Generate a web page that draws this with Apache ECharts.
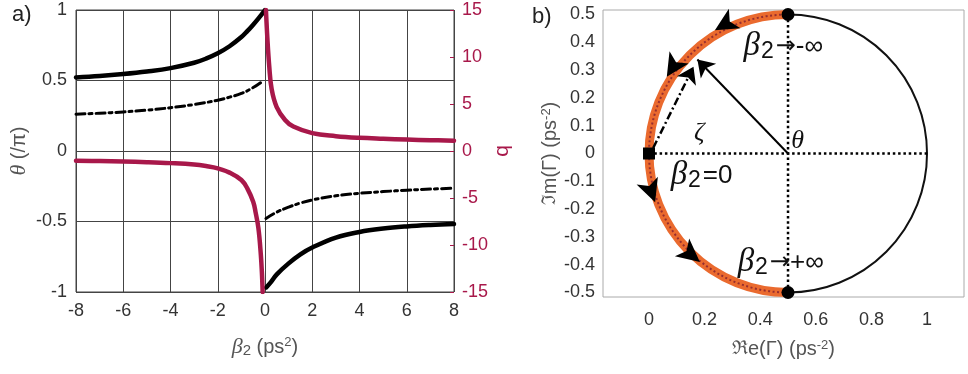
<!DOCTYPE html>
<html><head><meta charset="utf-8">
<script src="https://cdn.jsdelivr.net/npm/echarts@6/dist/echarts.min.js"></script>
<style>html,body{margin:0;padding:0;background:#fff}#c{width:968px;height:374px}</style>
</head><body><div id="c"></div>
<script>
// ---------- Panel a) data (read from the picture) ----------
// theta/pi, solid black
const betaSolidNeg = [-8, -7, -6, -5, -4, -3, -2.5, -2, -1.5, -1, -0.75, -0.5, -0.25, -0.1, 0];
const thetaSolidNeg = [0.522, 0.532, 0.546, 0.564, 0.588, 0.626, 0.655, 0.693, 0.743, 0.808, 0.85, 0.896, 0.946, 0.978, 1.0];
const betaSolidPos = [0.05, 0.25, 0.5, 1, 1.5, 2, 3, 4, 5, 6, 7, 8];
const thetaSolidPos = [-0.968, -0.93, -0.875, -0.797, -0.733, -0.685, -0.614, -0.574, -0.55, -0.535, -0.525, -0.518];
// zeta/pi, dash-dot black
const betaDashNeg = [-8, -7, -6, -5, -4, -3, -2, -1.5, -1, -0.5, -0.18];
const zetaDashNeg = [0.261, 0.268, 0.277, 0.29, 0.307, 0.33, 0.36, 0.382, 0.408, 0.45, 0.485];
const betaDashPos = [0.04, 0.5, 1, 1.5, 2, 3, 4, 5, 6, 7, 8];
const zetaDashPos = [-0.478, -0.433, -0.398, -0.369, -0.347, -0.318, -0.3, -0.288, -0.278, -0.27, -0.264];
// q, crimson (right axis)
const betaQNeg = [-8, -7, -6, -5, -4, -3, -2.5, -2, -1.5, -1, -0.75, -0.5, -0.4, -0.28, -0.18, -0.13, -0.1];
const qNeg = [-1.03, -1.07, -1.12, -1.19, -1.29, -1.44, -1.6, -1.84, -2.3, -3.09, -3.97, -5.4, -6.5, -8.2, -10.9, -13.0, -15];
const betaQPos = [0.04, 0.1, 0.18, 0.28, 0.49, 0.85, 1.2, 2, 3, 4, 5, 6, 7, 8];
const qPos = [15, 12, 9.0, 6.6, 4.7, 3.3, 2.6, 1.9, 1.58, 1.4, 1.3, 1.22, 1.15, 1.1];

// ---------- Panel b) data ----------
const reTicks = [0, 0.2, 0.4, 0.6, 0.8, 1];
const imTicks = [-0.5, -0.4, -0.3, -0.2, -0.1, 0, 0.1, 0.2, 0.3, 0.4, 0.5];
const circleCenter = [0.5, 0];
const circleRadius = 0.5;
const endDots = [[0.5, 0.5], [0.5, -0.5]];
const zeroPoint = [0, 0];
const vLine = [[0.5, 0.5], [0.5, -0.5]];
const hLine = [[0, 0], [1, 0]];
const radiusArrow = [[0.5, 0], [0.174, 0.338]];
const chordArrow = [[0.015, 0.02], [0.16, 0.312]];
const arcArrowPts = [[0.237, 0.443], [0.064, 0.276], [0.022, -0.175], [0.183, -0.39]];

const fontSans = '"Liberation Sans", Arial, sans-serif';
const fontSerif = '"Liberation Serif", "DejaVu Serif", serif';
const crimson = '#a8184a';
const orange = '#ea6a2e';
const tickColor = '#333';
const nameColor = '#555';

const pairs = (xs, ys) => xs.map((x, i) => [x, ys[i]]);

const annRich = {
  b: {fontFamily: fontSerif, fontStyle: 'italic', fontSize: 33, color: '#111'},
  s: {fontFamily: fontSans, fontSize: 23, color: '#111', verticalAlign: 'bottom', padding: [0, 2, 0, 1]},
  t: {fontFamily: fontSans, fontSize: 26, color: '#111'},
  a: {fontFamily: '"DejaVu Sans", sans-serif', fontSize: 24, color: '#111'},
  g: {fontFamily: fontSerif, fontStyle: 'italic', fontSize: 26, color: '#111'}
};
const nameRich = {
  b: {fontFamily: fontSerif, fontStyle: 'italic', fontSize: 22, color: nameColor},
  s: {fontFamily: fontSans, fontSize: 15, color: nameColor, verticalAlign: 'bottom'},
  p: {fontFamily: fontSans, fontSize: 13, color: nameColor, verticalAlign: 'top'},
  n: {fontFamily: fontSans, fontSize: 20, color: nameColor},
  r: {fontFamily: '"DejaVu Serif", serif', fontSize: 19, color: nameColor},
  q: {fontFamily: fontSans, fontSize: 21, color: crimson}
};

const annotations = [
  {pos: [0.338, 0.385], text: '{b|β}{s|2}{a|→}{t|-∞}'},
  {pos: [0.076, -0.08], text: '{b|β}{s|2}{t|=0}'},
  {pos: [0.317, -0.393], text: '{b|β}{s|2}{a|→}{t|+∞}'},
  {pos: [0.16, 0.074], text: '{g|ζ}'},
  {pos: [0.51, 0.045], text: '{g|θ}'}
];

const chart = echarts.init(document.getElementById('c'), null, {renderer: 'canvas'});

const lineA = (data, color, width, type, yIdx) => ({
  type: 'line', xAxisIndex: 0, yAxisIndex: yIdx, data, showSymbol: false, symbol: 'none',
  smooth: 0.4, lineStyle: {color, width, type, cap: 'round', join: 'round'}, z: yIdx === 1 ? 4 : 3,
  clip: true
});

const arcRender = (params, api) => {
  const c = api.coord([api.value(0), api.value(1)]);
  const r = api.size([api.value(2), 0])[0];
  return {
    type: 'group',
    children: [
      {type: 'circle', shape: {cx: c[0], cy: c[1], r}, style: {fill: null, stroke: '#111', lineWidth: 2}},
      {type: 'arc', shape: {cx: c[0], cy: c[1], r, startAngle: Math.PI / 2, endAngle: Math.PI * 1.5, clockwise: true},
        style: {fill: null, stroke: orange, lineWidth: 9}},
      {type: 'arc', shape: {cx: c[0], cy: c[1], r, startAngle: Math.PI / 2, endAngle: Math.PI * 1.5, clockwise: true},
        style: {fill: null, stroke: '#7a1a30', lineWidth: 2, lineDash: [2, 2.5], opacity: 0.75}}
    ]
  };
};

const option = {
  animation: false,
  backgroundColor: '#fff',
  textStyle: {fontFamily: fontSans},
  graphic: [
    {type: 'text', left: 12, top: 4, style: {text: 'a)', font: '22px ' + fontSans, fill: '#222'}},
    {type: 'text', left: 532, top: 6, style: {text: 'b)', font: '22px ' + fontSans, fill: '#222'}}
  ],
  grid: [
    {left: 76, top: 10, width: 378, height: 282, show: true, borderColor: '#444', borderWidth: 1, backgroundColor: 'transparent'},
    {left: 603, top: 10, width: 361, height: 287, show: true, borderColor: '#aaa', borderWidth: 1, backgroundColor: 'transparent'}
  ],
  xAxis: [
    {gridIndex: 0, type: 'value', min: -8, max: 8, interval: 2,
      axisLine: {show: false, onZero: false}, axisTick: {show: false},
      axisLabel: {color: tickColor, fontSize: 18, fontFamily: fontSans, margin: 10},
      splitLine: {show: true, lineStyle: {color: '#444', width: 1}},
      name: '{b|β}{s|2}{n| (ps}{p|2}{n|)}', nameLocation: 'middle', nameGap: 44,
      nameTextStyle: {rich: nameRich}},
    {gridIndex: 1, type: 'value', min: -0.1655, max: 1.133,
      axisLine: {show: false, onZero: false},
      axisTick: {show: false},
      axisLabel: {color: tickColor, fontSize: 18, fontFamily: fontSans, margin: 14, customValues: reTicks},
      splitLine: {show: false},
      name: '{r|ℜ}{n|e(Γ) (ps}{p|-2}{n|)}', nameLocation: 'middle', nameGap: 42,
      nameTextStyle: {rich: nameRich}}
  ],
  yAxis: [
    {gridIndex: 0, type: 'value', min: -1, max: 1, interval: 0.5,
      axisLine: {show: false, onZero: false}, axisTick: {show: false},
      axisLabel: {color: tickColor, fontSize: 18, fontFamily: fontSans, margin: 9},
      splitLine: {show: true, lineStyle: {color: '#444', width: 1}},
      name: '{b|θ}{n| (/π)}', nameLocation: 'middle', nameGap: 46, nameRotate: 90,
      nameTextStyle: {rich: nameRich}},
    {gridIndex: 0, type: 'value', position: 'right', min: -15, max: 15, interval: 5,
      axisLine: {show: false, onZero: false},
      axisTick: {show: true, inside: true, length: 4, lineStyle: {color: crimson}},
      axisLabel: {color: crimson, fontSize: 18, fontFamily: fontSans, margin: 8},
      splitLine: {show: false},
      name: '{q|q}', nameLocation: 'middle', nameGap: 19, nameRotate: 90,
      nameTextStyle: {rich: nameRich}},
    {gridIndex: 1, type: 'value', min: -0.5162, max: 0.5162,
      axisLine: {show: false, onZero: false},
      axisTick: {show: false},
      axisLabel: {color: tickColor, fontSize: 18, fontFamily: fontSans, margin: 8, customValues: imTicks},
      splitLine: {show: false},
      name: '{r|ℑ}{n|m(Γ) (ps}{p|-2}{n|)}', nameLocation: 'middle', nameGap: 41, nameRotate: 90,
      nameTextStyle: {rich: nameRich}}
  ],
  series: [
    lineA(pairs(betaSolidNeg, thetaSolidNeg), '#000', 4.5, 'solid', 0),
    lineA(pairs(betaSolidPos, thetaSolidPos), '#000', 4.5, 'solid', 0),
    lineA(pairs(betaDashNeg, zetaDashNeg), '#000', 3, [9, 4, 3, 4], 0),
    lineA(pairs(betaDashPos, zetaDashPos), '#000', 3, [9, 4, 3, 4], 0),
    lineA(pairs(betaQNeg, qNeg), crimson, 4.5, 'solid', 1),
    lineA(pairs(betaQPos, qPos), crimson, 4.5, 'solid', 1),
    // panel b
    {type: 'custom', xAxisIndex: 1, yAxisIndex: 2, renderItem: arcRender, clip: false, z: 2,
      data: [[circleCenter[0], circleCenter[1], circleRadius]]},
    {type: 'line', xAxisIndex: 1, yAxisIndex: 2, data: vLine, symbol: 'none', z: 5,
      lineStyle: {color: '#000', width: 2.5, type: [2.5, 2.8]}},
    {type: 'line', xAxisIndex: 1, yAxisIndex: 2, data: hLine, symbol: 'none', z: 5,
      lineStyle: {color: '#000', width: 2.5, type: [2.5, 2.8]}},
    {type: 'lines', coordinateSystem: 'cartesian2d', xAxisIndex: 1, yAxisIndex: 2, z: 6,
      symbol: ['none', 'arrow'], symbolSize: 16,
      lineStyle: {color: '#000', width: 2, opacity: 1},
      data: [{coords: radiusArrow}]},
    {type: 'lines', coordinateSystem: 'cartesian2d', xAxisIndex: 1, yAxisIndex: 2, z: 6,
      symbol: ['none', 'arrow'], symbolSize: 16,
      lineStyle: {color: '#000', width: 2.5, type: [8, 3, 2, 3], opacity: 1},
      data: [{coords: chordArrow}]},
    {type: 'scatter', xAxisIndex: 1, yAxisIndex: 2, z: 7, symbol: 'arrow', symbolSize: [17, 23],
      itemStyle: {color: '#000', opacity: 1},
      data: arcArrowPts.map(p => ({value: p,
        symbolRotate: Math.atan2(p[1] - circleCenter[1], p[0] - circleCenter[0]) * 180 / Math.PI}))},
    {type: 'scatter', xAxisIndex: 1, yAxisIndex: 2, z: 8, symbol: 'circle', symbolSize: 13,
      itemStyle: {color: '#000', opacity: 1}, data: endDots},
    {type: 'scatter', xAxisIndex: 1, yAxisIndex: 2, z: 8, symbol: 'rect', symbolSize: 12,
      itemStyle: {color: '#000', opacity: 1}, data: [zeroPoint]},
    {type: 'scatter', xAxisIndex: 1, yAxisIndex: 2, z: 9, symbol: 'circle', symbolSize: 1, silent: true,
      itemStyle: {color: 'rgba(0,0,0,0)', borderWidth: 0, opacity: 1},
      data: annotations.map(a => ({value: a.pos,
        label: {show: true, position: 'right', distance: 0, opacity: 1, formatter: a.text, rich: annRich}}))}
  ]
};
chart.setOption(option);
</script>
</body></html>
